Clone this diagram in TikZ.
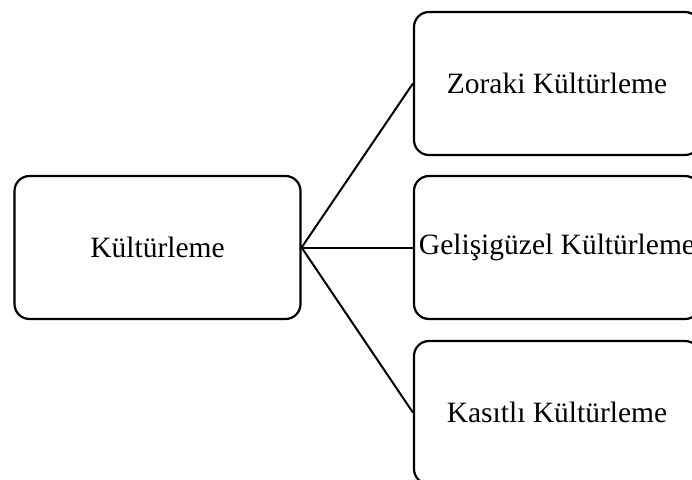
\documentclass[tikz,border=0pt]{standalone}
\usepackage{fontspec}
\setmainfont{Liberation Serif}
\begin{document}
\begin{tikzpicture}[x=1pt,y=-1pt,
  cbox/.style={draw=black, line width=2.2pt, rounded corners=15pt,
    minimum width=286pt, minimum height=143pt, inner sep=0pt,
    font=\fontsize{29.5}{35}\selectfont},
  link/.style={draw=black, line width=2pt}]
  \useasboundingbox (0,0) rectangle (692,479);
  \clip (0,0) rectangle (692,479);
  \node[cbox] (root) at (157.5,247.5) {Kültürleme};
  \node[cbox] (zor) at (557,83.5) {Zoraki Kültürleme};
  \node[cbox] (gel) at (557,247.5) {Gelişigüzel Kültürleme};
  \node[cbox] (kas) at (557,412.5) {Kasıtlı Kültürleme};
  \draw[link] (root.east) -- (zor.west);
  \draw[link] (root.east) -- (gel.west);
  \draw[link] (root.east) -- (kas.west);
\end{tikzpicture}
\end{document}
